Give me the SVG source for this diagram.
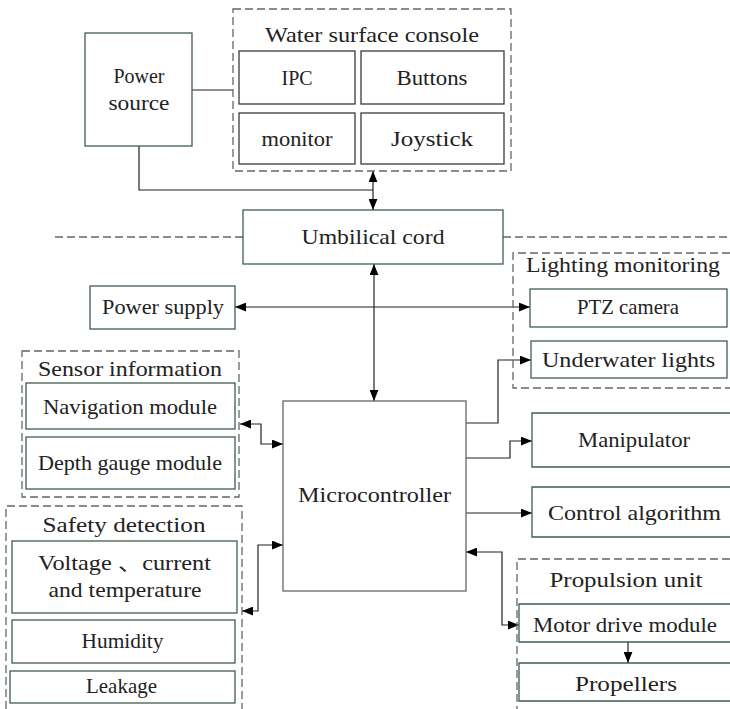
<svg xmlns="http://www.w3.org/2000/svg" width="730" height="709" viewBox="0 0 730 709">
<defs>
<marker id="ah" viewBox="0 0 10 8" refX="10" refY="4" markerWidth="11" markerHeight="9" markerUnits="userSpaceOnUse" orient="auto-start-reverse">
<path d="M0,0 L10,4 L0,8 z" fill="#000"/>
</marker>
<style>
.n{fill:#fff;stroke:#3f5f4b;stroke-width:1.3}
.o{fill:none;stroke:#3f5f4b;stroke-width:1.3}
.k{fill:#fff;stroke:#3a3a3a;stroke-width:1.3}
.m{fill:#fff;stroke:#666;stroke-width:1.3}
.d{fill:none;stroke:#666;stroke-width:1.3;stroke-dasharray:8,4}
.c{fill:none;stroke:#222;stroke-width:1.2}
.a{marker-end:url(#ah)}
.b{marker-start:url(#ah);marker-end:url(#ah)}
text{font-family:"Liberation Serif","Noto Sans CJK SC",serif;font-size:21px;fill:#222;text-anchor:middle}
</style>
</defs>
<rect width="730" height="709" fill="#fff"/>
<g id="connectors">
<path class="d" d="M55,237 H243 M503,237 H730"/>
<path class="c" d="M192,90 H233"/>
<path class="c" d="M139,146 V190 H373"/>
<path class="c b" d="M373,171 V210"/>
<path class="c b" d="M374,264 V401"/>
<path class="c b" d="M235,307 H530"/>
<path class="c a" d="M466,423 H498 V360 H531"/>
<path class="c a" d="M466,458 H510 V441 H532"/>
<path class="c a" d="M466,513 H532"/>
<path class="c b" d="M466,552 H502 V625 H519"/>
<path class="c a" d="M628,642 V663"/>
<path class="c b" d="M240,424 H261 V444 H283"/>
<path class="c b" d="M242,611 H258 V545 H283"/>
</g>
<g id="power-source">
<rect class="n" x="85" y="33" width="107" height="113"/>
<text x="139" y="83" textLength="51" lengthAdjust="spacingAndGlyphs">Power</text>
<text x="139" y="110" textLength="61" lengthAdjust="spacingAndGlyphs">source</text>
</g>
<g id="water-surface-console">
<rect class="d" x="233" y="9" width="278" height="162"/>
<text x="372" y="42" textLength="214" lengthAdjust="spacingAndGlyphs">Water surface console</text>
</g>
<g id="ipc">
<rect class="k" x="239" y="51" width="116" height="53"/>
<text x="297" y="85" textLength="31" lengthAdjust="spacingAndGlyphs">IPC</text>
</g>
<g id="buttons">
<rect class="k" x="361" y="51" width="143" height="53"/>
<text x="432" y="85" textLength="71" lengthAdjust="spacingAndGlyphs">Buttons</text>
</g>
<g id="monitor">
<rect class="k" x="239" y="113" width="116" height="51"/>
<text x="297" y="146" textLength="71" lengthAdjust="spacingAndGlyphs">monitor</text>
</g>
<g id="joystick">
<rect class="k" x="361" y="113" width="143" height="51"/>
<text x="432" y="146" textLength="82" lengthAdjust="spacingAndGlyphs">Joystick</text>
</g>
<g id="umbilical-cord">
<rect class="n" x="243" y="210" width="260" height="54"/>
<text x="373" y="244" textLength="143" lengthAdjust="spacingAndGlyphs">Umbilical cord</text>
</g>
<g id="power-supply">
<rect class="n" x="90" y="286" width="145" height="43"/>
<text x="163" y="314" textLength="122" lengthAdjust="spacingAndGlyphs">Power supply</text>
</g>
<g id="lighting-monitoring">
<path class="d" d="M730,253 H513 V388 H730"/>
<text x="623" y="272" textLength="194" lengthAdjust="spacingAndGlyphs">Lighting monitoring</text>
</g>
<g id="ptz-camera">
<rect class="n" x="530" y="289" width="197" height="38"/>
<text x="628" y="314" textLength="102" lengthAdjust="spacingAndGlyphs">PTZ camera</text>
</g>
<g id="underwater-lights">
<rect class="n" x="531" y="341" width="196" height="37"/>
<text x="628.5" y="367" textLength="173" lengthAdjust="spacingAndGlyphs">Underwater lights</text>
</g>
<g id="manipulator">
<rect x="532" y="413" width="198" height="54" fill="#fff"/>
<path class="o" d="M730,413 H532 V467 H730"/>
<text x="634" y="447" textLength="112" lengthAdjust="spacingAndGlyphs">Manipulator</text>
</g>
<g id="control-algorithm">
<rect x="532" y="487" width="198" height="50" fill="#fff"/>
<path class="o" d="M730,487 H532 V537 H730"/>
<text x="634.5" y="520" textLength="173" lengthAdjust="spacingAndGlyphs">Control algorithm</text>
</g>
<g id="microcontroller">
<rect class="m" x="283" y="401" width="183" height="190"/>
<text x="374.5" y="502" textLength="153" lengthAdjust="spacingAndGlyphs">Microcontroller</text>
</g>
<g id="propulsion-unit">
<path class="d" d="M730,559 H517 V709"/>
<text x="626" y="587" textLength="153" lengthAdjust="spacingAndGlyphs">Propulsion unit</text>
</g>
<g id="motor-drive-module">
<rect x="519" y="604" width="211" height="38" fill="#fff"/>
<path class="o" d="M730,604 H519 V642 H730"/>
<text x="625" y="632" textLength="184" lengthAdjust="spacingAndGlyphs">Motor drive module</text>
</g>
<g id="propellers">
<rect x="519" y="663" width="211" height="38" fill="#fff"/>
<path class="o" d="M730,663 H519 V701 H730"/>
<text x="626" y="691" textLength="102" lengthAdjust="spacingAndGlyphs">Propellers</text>
</g>
<g id="sensor-information">
<rect class="d" x="22" y="351" width="217" height="146"/>
<text x="130" y="376" textLength="184" lengthAdjust="spacingAndGlyphs">Sensor information</text>
</g>
<g id="navigation-module">
<rect class="n" x="26" y="383" width="209" height="46"/>
<text x="130" y="414" textLength="174" lengthAdjust="spacingAndGlyphs">Navigation module</text>
</g>
<g id="depth-gauge-module">
<rect class="n" x="26" y="437" width="209" height="52"/>
<text x="130" y="470" textLength="184" lengthAdjust="spacingAndGlyphs">Depth gauge module</text>
</g>
<g id="safety-detection">
<path class="d" d="M6,709 V506 H242 V709"/>
<text x="124" y="532" textLength="163" lengthAdjust="spacingAndGlyphs">Safety detection</text>
</g>
<g id="voltage-current-temperature">
<rect class="n" x="12" y="541" width="225" height="72"/>
<text x="124.5" y="570" textLength="173" lengthAdjust="spacingAndGlyphs">Voltage 、current</text>
<text x="125" y="597" textLength="153" lengthAdjust="spacingAndGlyphs">and temperature</text>
</g>
<g id="humidity">
<rect class="n" x="12" y="620" width="223" height="43"/>
<text x="122.5" y="648" textLength="82" lengthAdjust="spacingAndGlyphs">Humidity</text>
</g>
<g id="leakage">
<rect class="n" x="10" y="671" width="225" height="32"/>
<text x="121.5" y="693" textLength="71" lengthAdjust="spacingAndGlyphs">Leakage</text>
</g>
</svg>
